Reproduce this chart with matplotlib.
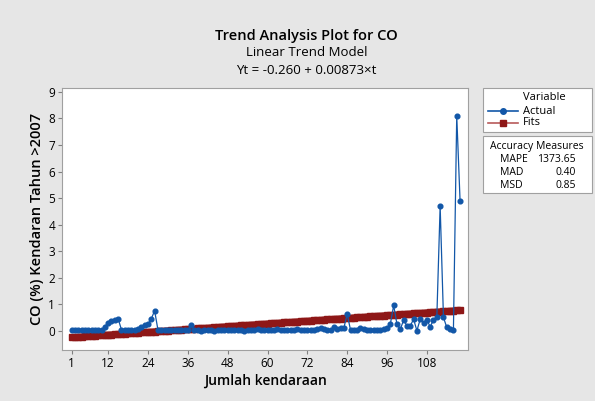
import numpy as np
import matplotlib
matplotlib.use("Agg")
import matplotlib.pyplot as plt
from matplotlib.lines import Line2D
from matplotlib.patches import Rectangle

plt.rcParams["font.family"] = ["Open Sans", "DejaVu Sans"]

# Actual CO values, t = 1..118
actual = [
    0.02, 0.03, 0.02, 0.03, 0.02, 0.02, 0.03, 0.02, 0.02, 0.03,
    0.15, 0.30, 0.36, 0.40, 0.45, 0.04, 0.03, 0.04, 0.03, 0.04,
    0.05, 0.12, 0.20, 0.25, 0.45, 0.75, 0.03, 0.02, 0.03, 0.02,
    0.01, 0.02, 0.03, 0.02, 0.01, 0.03, 0.20, 0.02, 0.01, 0.00,
    0.02, 0.01, 0.02, 0.00, 0.01, 0.02, 0.01, 0.03, 0.02, 0.01,
    0.04, 0.02, 0.00, 0.01, 0.02, 0.03, 0.05, 0.02, 0.03, 0.04,
    0.02, 0.03, 0.05, 0.02, 0.03, 0.02, 0.04, 0.03, 0.05, 0.02,
    0.03, 0.04, 0.02, 0.03, 0.05, 0.10, 0.05, 0.04, 0.02, 0.15,
    0.05, 0.10, 0.10, 0.62, 0.03, 0.02, 0.03, 0.10, 0.06, 0.03,
    0.02, 0.04, 0.02, 0.03, 0.05, 0.10, 0.25, 0.95, 0.24, 0.05,
    0.40, 0.18, 0.18, 0.43, 0.00, 0.43, 0.30, 0.40, 0.15, 0.40,
    0.50, 4.70, 0.50, 0.12, 0.06, 0.02, 8.10, 4.90,
]
intercept = -0.260
slope = 0.00873
x_ticks = [1, 12, 24, 36, 48, 60, 72, 84, 96, 108]
y_ticks = list(range(0, 10))
measures = ["MAPE", "MAD", "MSD"]
measure_values = ["1373.65", "0.40", "0.85"]

t = np.arange(1, len(actual) + 1)
fits = intercept + slope * t

blue = "#1257A8"
red = "#8E1717"
bg = "#E6E6E6"

fig = plt.figure(figsize=(5.95, 4.01), dpi=100, facecolor=bg)
ax = fig.add_axes([0.1042, 0.1272, 0.6824, 0.6534])
ax.set_facecolor("white")

ax.plot(t, fits, color=red, lw=4.5, marker="s", ms=4, mec=red, mfc=red,
        solid_capstyle="butt", zorder=2)
ax.plot(t, actual, color=blue, lw=0.9, marker="o", ms=3.4, mec=blue, mfc=blue,
        zorder=3)

ax.set_xlim(-1.9, 120.4)
ax.set_ylim(-0.73, 9.15)
ax.set_xticks(x_ticks)
ax.set_yticks(y_ticks)
ax.tick_params(labelsize=8.5, length=3, width=0.8, color="#808080", pad=2)
for s in ax.spines.values():
    s.set_color("#A0A0A0")
    s.set_linewidth(0.8)

ax.set_xlabel("Jumlah kendaraan", fontsize=10, fontweight="semibold", labelpad=3)
ax.set_ylabel("CO (%) Kendaran Tahun >2007", fontsize=10.5, fontweight="semibold",
              labelpad=3)

fig.text(0.515, 0.91, "Trend Analysis Plot for CO", ha="center", va="center",
         fontsize=10.5, fontweight="semibold")
fig.text(0.515, 0.868, "Linear Trend Model", ha="center", va="center",
         fontsize=9.5, fontweight="medium")
fig.text(0.515, 0.823, "Yt = -0.260 + 0.00873\u00d7t", ha="center", va="center",
         fontsize=9.5, fontweight="medium")

# legend box
W, H = 595.0, 401.0
def box(x0, y0, x1, y1):
    fig.add_artist(Rectangle((x0 / W, 1 - y1 / H), (x1 - x0) / W, (y1 - y0) / H,
                             transform=fig.transFigure, fc="white", ec="#A0A0A0",
                             lw=0.8))

box(483, 88, 592, 132)
fig.text(544 / W, 1 - 98 / H, "Variable", ha="center", va="center", fontsize=8)
for i, (lab, c, mk, lc) in enumerate([("Actual", blue, "o", blue),
                                      ("Fits", red, "s", "#B85A5A")]):
    yy = 1 - (111 + i * 11.5) / H
    fig.add_artist(Line2D([488 / W, 518 / W], [yy, yy], color=lc, lw=1.2,
                          transform=fig.transFigure))
    fig.add_artist(Line2D([503 / W], [yy], color=c, marker=mk, ms=4,
                          transform=fig.transFigure))
    fig.text(523 / W, yy, lab, ha="left", va="center", fontsize=8)

box(483, 136, 592, 193)
fig.text(537 / W, 1 - 146 / H, "Accuracy Measures", ha="center", va="center",
         fontsize=7.5)
for i, (m, v) in enumerate(zip(measures, measure_values)):
    yy = 1 - (159.5 + i * 13) / H
    fig.text(500 / W, yy, m, ha="left", va="center", fontsize=7.5)
    fig.text(576 / W, yy, v, ha="right", va="center", fontsize=7.5)

fig.savefig("out.png", dpi=100, facecolor=bg)
